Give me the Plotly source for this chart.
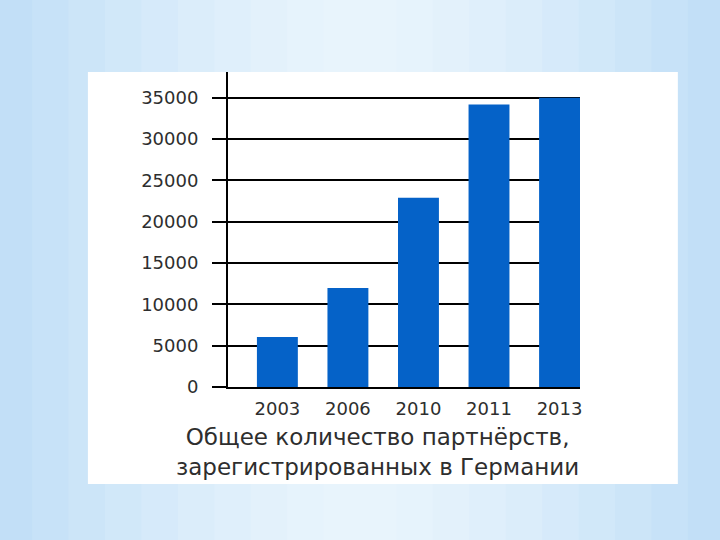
import plotly.graph_objects as go

years = ["2003", "2006", "2010", "2011", "2013"]
partnerships = [6050, 11980, 22900, 34200, 35000]
y_ticks = [0, 5000, 10000, 15000, 20000, 25000, 30000, 35000]
title_lines = ["Общее количество партнёрств,", "зарегистрированных в Германии"]

font_name = "DejaVu Sans"
text_col = "#2e2e2e"

fig = go.Figure(go.Bar(
    x=years,
    y=partnerships,
    marker=dict(color="#0562c8", line=dict(width=0)),
    width=0.58,
))

# light blue slide background: soft side-to-centre gradient made of thin strips
strip_cols = ["#c2dff7", "#c7e2f8", "#cce5f8", "#d1e8f9", "#d6eafa", "#dbedfa",
              "#dfeffb", "#e3f1fb", "#e6f3fc", "#e8f4fc"]
n = len(strip_cols)
left, right, bottom, top = -0.66, 1.41, -0.50, 1.24
mid = (left + right) / 2
half = (right - left) / 2
for i, c in enumerate(strip_cols):
    w = half * (1 - i / n)
    fig.add_shape(type="rect", xref="paper", yref="paper", x0=mid - w, x1=mid + w,
                  y0=bottom, y1=top, fillcolor=c, line=dict(width=0), layer="below")
fig.add_shape(type="rect", xref="paper", yref="paper", x0=-0.398, x1=1.278, y0=-0.308, y1=1.0,
              fillcolor="white", line=dict(width=0), layer="below")

fig.add_annotation(
    text="<br>".join(title_lines),
    xref="paper", yref="paper", x=0.424, y=-0.112,
    xanchor="center", yanchor="top", showarrow=False,
    font=dict(family=font_name, size=23, color=text_col),
)

fig.update_xaxes(
    range=[-0.70, 4.29],
    showgrid=False, showline=True, linecolor="black", linewidth=2,
    ticks="", tickfont=dict(family=font_name, size=18, color=text_col),
    ticklabelstandoff=4,
)
fig.update_yaxes(
    range=[0, 38130],
    tickvals=y_ticks, tickformat="d",
    showgrid=True, gridcolor="black", gridwidth=2,
    showline=True, linecolor="black", linewidth=2,
    ticks="outside", ticklen=14, tickwidth=2, tickcolor="black",
    tickfont=dict(family=font_name, size=18, color=text_col),
    ticklabelstandoff=10, zeroline=False,
)
fig.update_layout(
    width=720, height=540,
    margin=dict(l=228, r=140, t=72, b=153),
    paper_bgcolor="#c2dff7",
    plot_bgcolor="rgba(0,0,0,0)",
    showlegend=False,
)

fig.write_html("out.html", config={"displayModeBar": False},
               post_script="document.body.style.margin='0';")
